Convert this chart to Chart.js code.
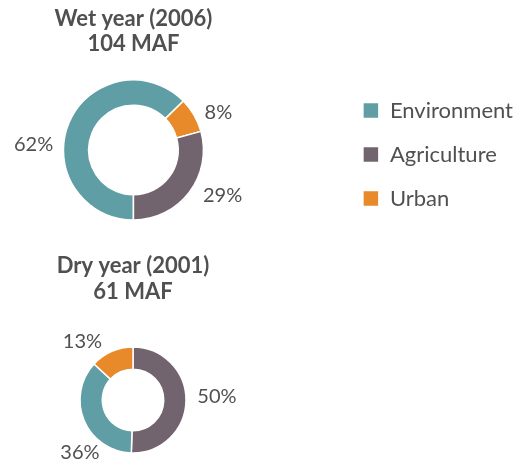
<!DOCTYPE html>
<html>
<head>
<meta charset="utf-8">
<script src="https://cdn.jsdelivr.net/npm/chart.js@4"></script>
<style>
    body { margin: 0; background: #fff; width: 523px; height: 464px; overflow: hidden; position: relative; }
    canvas { position: absolute; }
    /* wet chart canvas starts left of the page so the ring lands under its title while the legend sits right */
    #wetChart { top: 0; left: -74px; }
    #dryChart { top: 240px; left: 0; }
</style>
</head>
<body>
<canvas id="wetChart" width="597" height="250"></canvas>
<canvas id="dryChart" width="266" height="224"></canvas>
<script>
const categories = ['Environment', 'Agriculture', 'Urban'];
const wetShares = [62, 29, 8];
const dryShares = [36, 50, 13];
const wetTitle = ['Wet year (2006)', '104 MAF'];
const dryTitle = ['Dry year (2001)', '61 MAF'];

const colors = ['#5f9ea4', '#72646e', '#e8892a'];
const textColor = '#505050';
const fontFamily = 'Lato, "Open Sans", sans-serif';

// percent labels sit outside the ring, at an angle (deg from top) and distance
const pctLabels = {
    id: 'pctLabels',
    afterDatasetsDraw(chart, args, opts) {
        const ctx = chart.ctx;
        const meta = chart.getDatasetMeta(0);
        const values = chart.data.datasets[0].data;
        ctx.save();
        ctx.font = `${opts.size}px ${fontFamily}`;
        ctx.fillStyle = textColor;
        ctx.textAlign = 'center';
        ctx.textBaseline = 'middle';
        meta.data.forEach((arc, i) => {
            const [deg, dist] = opts.spots[i];
            const a = deg * Math.PI / 180;
            ctx.fillText(values[i] + '%', arc.x + dist * Math.sin(a), arc.y - dist * Math.cos(a));
        });
        ctx.restore();
    }
};

function makeDoughnut(id, shares, order, title, cfg) {
    const ctx = document.getElementById(id).getContext('2d');
    return new Chart(ctx, {
        type: 'doughnut',
        data: {
            labels: order.map(i => categories[i]),
            datasets: [{
                data: order.map(i => shares[i]),
                backgroundColor: order.map(i => colors[i]),
                borderColor: '#ffffff',
                borderWidth: 1.5
            }]
        },
        plugins: [pctLabels],
        options: {
            responsive: false,
            animation: false,
            events: [],
            rotation: cfg.rotation,
            radius: cfg.radius,
            cutout: cfg.cutout,
            layout: { padding: cfg.padding },
            plugins: {
                tooltip: { enabled: false },
                title: {
                    display: true,
                    text: title,
                    fullSize: false,
                    color: textColor,
                    font: { family: fontFamily, size: 22, weight: 'bold', lineHeight: cfg.titleLine },
                    padding: cfg.titlePadding
                },
                legend: {
                    display: cfg.legend,
                    position: 'right',
                    fullSize: false,
                    align: 'center',
                    // empty legend title just nudges the items down a little
                    title: { display: true, text: '', padding: 0, font: { size: 9, lineHeight: 1 } },
                    labels: {
                        color: textColor,
                        boxWidth: 16,
                        boxHeight: 16,
                        padding: 22,
                        font: { family: fontFamily, size: 22 },
                        sort: (a, b) => categories.indexOf(a.text) - categories.indexOf(b.text)
                    }
                },
                pctLabels: { size: 20, spots: cfg.spots }
            }
        }
    });
}

// wet: clockwise from the bottom -> Environment, Urban, Agriculture
makeDoughnut('wetChart', wetShares, [0, 2, 1], wetTitle, {
    rotation: 180,
    radius: 70,
    cutout: '64%',
    legend: true,
    padding: { left: 0, right: 0, top: 0, bottom: 10 },
    titleLine: 1.16,
    titlePadding: { top: 6, bottom: 3 },
    spots: [[273, 100], [66, 93], [117, 100]]
});

// dry: clockwise from the top -> Agriculture, Environment, Urban
makeDoughnut('dryChart', dryShares, [1, 0, 2], dryTitle, {
    rotation: 0,
    radius: 53,
    cutout: '58%',
    legend: false,
    padding: { left: 0, right: 0, top: 0, bottom: 0 },
    titleLine: 1.18,
    titlePadding: { top: 13, bottom: 31 },
    spots: [[88, 84], [225, 75], [319, 77]]
});
</script>
</body>
</html>
